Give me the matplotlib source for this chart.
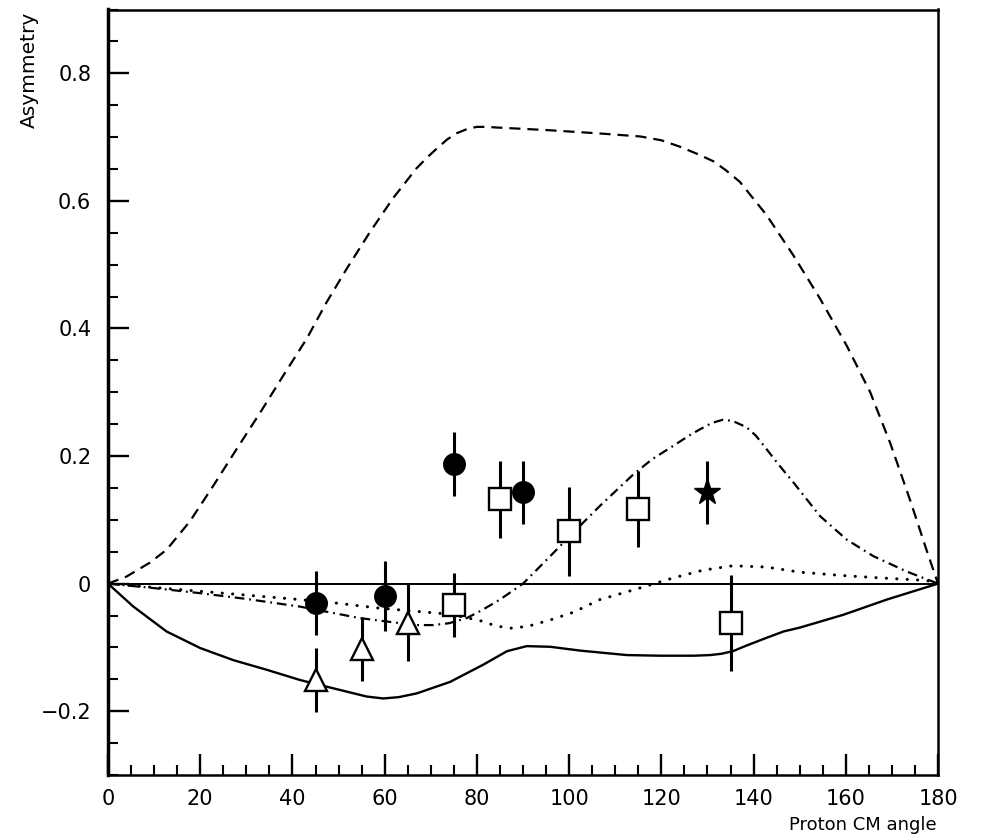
import matplotlib
matplotlib.use("Agg")
import matplotlib.pyplot as plt
from matplotlib.ticker import MultipleLocator, FuncFormatter

plt.rcParams['font.family'] = ['DejaVu Sans']
plt.rcParams['lines.scale_dashes'] = False

# ---- data points ----
x_circle = [45, 60, 75, 90]
y_circle = [-0.03, -0.02, 0.187, 0.143]
e_circle = [0.05, 0.055, 0.05, 0.05]

x_tri = [45, 55, 65]
y_tri = [-0.151, -0.102, -0.061]
e_tri = [0.05, 0.05, 0.06]

x_sq = [75, 85, 100, 115, 135]
y_sq = [-0.034, 0.132, 0.082, 0.117, -0.062]
e_sq = [0.05, 0.06, 0.07, 0.06, 0.075]

x_star = [130]
y_star = [0.143]
e_star = [0.05]

# ---- theory curves ----
dashed_x = [0, 4, 9.1, 12.7, 17.8, 22.8, 27.9, 33, 38, 43.1, 47.4, 51.8, 56.8, 61.8,
            66.9, 69.5, 71.3, 73.5, 75.6, 78, 80, 82, 84.3, 95.1, 106, 115.4, 120,
            124, 128, 131.3, 134, 137, 142.8, 148.6, 154.4, 160.2, 165.3, 169.6,
            173.9, 177.5, 180]
dashed_y = [0, 0.011, 0.033, 0.053, 0.098, 0.153, 0.211, 0.268, 0.326, 0.384, 0.441,
            0.494, 0.551, 0.604, 0.651, 0.670, 0.682, 0.696, 0.706, 0.713, 0.716,
            0.716, 0.715, 0.711, 0.706, 0.701, 0.695, 0.685, 0.673, 0.662, 0.648,
            0.630, 0.578, 0.515, 0.447, 0.373, 0.300, 0.221, 0.132, 0.053, 0]

dashdot_x = [0, 10, 20, 30, 41.6, 54.6, 63.3, 67, 70.5, 74, 77.8, 81, 85, 90, 95.9,
             100.9, 106.7, 113.9, 118, 122.6, 126, 128.4, 131, 133.4, 135.5, 138.5,
             140.5, 142.8, 145.5, 148.6, 154.4, 160.2, 166, 173.2, 180]
dashdot_y = [0, -0.007, -0.015, -0.024, -0.036, -0.054, -0.062, -0.065, -0.065, -0.062,
             -0.054, -0.042, -0.025, 0.0, 0.043, 0.08, 0.122, 0.171, 0.195, 0.216,
             0.232, 0.242, 0.252, 0.257, 0.255, 0.245, 0.232, 0.211, 0.186, 0.159,
             0.106, 0.069, 0.043, 0.019, 0]

dotted_x = [0, 10, 20, 30, 40, 48.9, 58.3, 67.7, 74.2, 80.7, 84, 87.2, 91, 95.9, 100.9,
            106.7, 113.9, 122.6, 129, 135.5, 142.8, 150, 158.7, 167.4, 177.5, 180]
dotted_y = [0, -0.006, -0.012, -0.018, -0.024, -0.030, -0.038, -0.044, -0.048, -0.058,
            -0.066, -0.070, -0.067, -0.057, -0.045, -0.025, -0.010, 0.009, 0.021,
            0.028, 0.026, 0.018, 0.013, 0.009, 0.005, 0]

solid_x = [0, 5.5, 12.7, 20, 27.2, 34.4, 41.6, 48.8, 56.1, 59.7, 63, 67, 74.2, 81.4,
           86.5, 90.8, 95.9, 102.4, 112.5, 119.7, 127, 130.6, 133, 135.5, 138.5,
           142.8, 146.5, 150, 159.4, 168.9, 180]
solid_y = [0, -0.036, -0.075, -0.101, -0.120, -0.135, -0.151, -0.164, -0.177, -0.180,
           -0.178, -0.172, -0.154, -0.127, -0.106, -0.098, -0.099, -0.105, -0.112,
           -0.113, -0.113, -0.112, -0.110, -0.106, -0.097, -0.085, -0.075, -0.069,
           -0.049, -0.025, 0]

zero_x = [0, 180]
zero_y = [0, 0]

fig = plt.figure(figsize=(9.81, 8.40), dpi=100)
ax = fig.add_axes([108/981, 65/840, 830/981, 765.5/840])

ax.set_xlim(0, 180)
ax.set_ylim(-0.3, 0.9)

ax.plot(zero_x, zero_y, color='black', lw=1.4, zorder=2)
ax.plot(dashed_x, dashed_y, color='black', lw=1.6, dashes=[8, 5], zorder=2)
ax.plot(dashdot_x, dashdot_y, color='black', lw=1.6, dashes=[7, 3.5, 1.3, 3.5],
        zorder=2)
ax.plot(dotted_x, dotted_y, color='black', lw=2.2, dashes=[0.1, 7.4],
        dash_capstyle='round', zorder=2)
ax.plot(solid_x, solid_y, color='black', lw=1.7, zorder=2)

ekw = dict(ecolor='black', elinewidth=2.2, capsize=0, linestyle='none', zorder=3)
ax.errorbar(x_circle, y_circle, yerr=e_circle, fmt='o', ms=15.5, mfc='black',
            mec='black', **ekw)
ax.errorbar(x_tri, y_tri, yerr=e_tri, fmt='^', ms=16, mfc='white', mec='black',
            mew=1.7, **ekw)
ax.errorbar(x_sq, y_sq, yerr=e_sq, fmt='s', ms=15.5, mfc='white', mec='black',
            mew=1.7, **ekw)
ax.errorbar(x_star, y_star, yerr=e_star, fmt='*', ms=20, mfc='black', mec='black',
            **ekw)

# ticks
ax.xaxis.set_major_locator(MultipleLocator(20))
ax.xaxis.set_minor_locator(MultipleLocator(5))
ax.yaxis.set_major_locator(MultipleLocator(0.2))
ax.yaxis.set_minor_locator(MultipleLocator(0.05))
ax.tick_params(axis='both', which='major', direction='in', length=15, width=1.7,
               labelsize=15, top=False, right=False)
ax.tick_params(axis='both', which='minor', direction='in', length=7, width=1.5,
               top=False, right=False)
ax.tick_params(axis='y', which='major', pad=12)
ax.tick_params(axis='x', which='major', pad=10)


def yfmt(v, pos):
    if abs(v) < 1e-9:
        return '0'
    return ('%.1f' % v).replace('-', '\u2212')


def xfmt(v, pos):
    return '%d' % round(v)


ax.yaxis.set_major_formatter(FuncFormatter(yfmt))
ax.xaxis.set_major_formatter(FuncFormatter(xfmt))

for s in ax.spines.values():
    s.set_linewidth(1.8)
ax.spines['left'].set_linewidth(2.5)

fig.text(29/981, 1 - 12/840, 'Asymmetry', rotation=90, ha='center', va='top',
         fontsize=14.5)
fig.text(937/981, 1 - 825/840, 'Proton CM angle', ha='right', va='center',
         fontsize=13)

fig.savefig('out.png', dpi=100)
